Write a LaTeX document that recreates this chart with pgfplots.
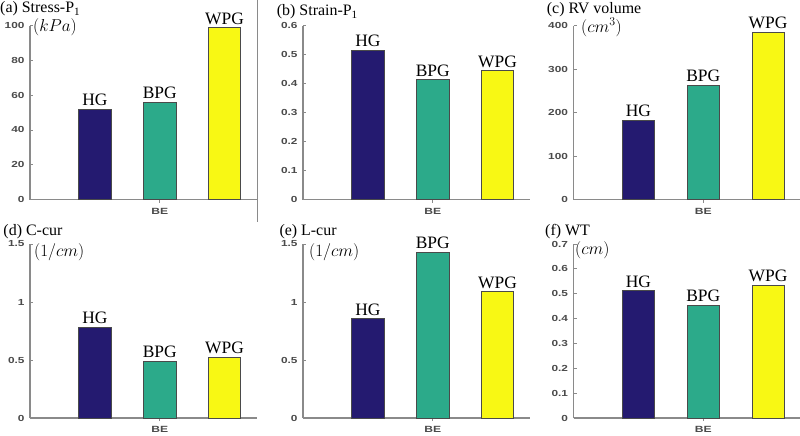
\documentclass[border=0pt]{standalone}
\usepackage{pgfplots}
\pgfplotsset{compat=1.18}
\usepackage{fontspec}
\setmainfont{Liberation Serif}
\setsansfont{Liberation Sans}
\newfontfamily\ticksf[FakeStretch=1.35]{Liberation Sans}
\definecolor{hg}{HTML}{241A70}
\definecolor{bpg}{HTML}{2CAA8A}
\definecolor{wpg}{HTML}{F8F814}
\definecolor{axgrey}{HTML}{8A8A8A}
\definecolor{tickgrey}{HTML}{4A4A4A}
\definecolor{edgegrey}{HTML}{4A4A4A}
\pgfplotsset{
  panel/.style={
    scale only axis, width=227bp, height=174bp,
    anchor=south west,
    axis x line=bottom, axis y line=left,
    axis line style={-, draw=axgrey, line width=1.2bp},
    xmin=0, xmax=3.5, ymin=0,
    xtick={2}, xticklabels={BE},
    tick align=inside, major tick length=3bp,
    tick style={draw=axgrey, line width=0.8bp},
    /pgf/number format/assume math mode=true,
    yticklabel style={font=\ticksf\bfseries\fontsize{8.8}{10}\selectfont, text=tickgrey},
    xticklabel style={font=\ticksf\bfseries\fontsize{9}{10}\selectfont, text=tickgrey},
    ybar, bar width=0.5,
    every node near coord/.append style={font=\rmfamily\fontsize{17.5}{20}\selectfont, text=black, inner sep=0pt, yshift=3bp},
    clip=false,
  },
  barstyle/.style={bar shift=0pt, draw=edgegrey, line width=0.6bp, fill=#1},
}
\begin{document}
\begin{tikzpicture}
\useasboundingbox (0,0) rectangle (800bp,-436bp);
\fontsize{16}{19}\selectfont
% (a)
\begin{axis}[panel, at={(30bp,-199.5bp)}, ymax=100, ytick={0,20,...,100}]
\addplot[barstyle=hg, nodes near coords={HG}] coordinates {(1,52)};
\addplot[barstyle=bpg, nodes near coords={BPG}] coordinates {(2,56)};
\addplot[barstyle=wpg, nodes near coords={WPG}] coordinates {(3,98.8)};
\end{axis}
% (b)
\begin{axis}[panel, at={(303bp,-199.5bp)}, ymax=0.6, ytick={0,0.1,...,0.6}]
\addplot[barstyle=hg, nodes near coords={HG}] coordinates {(1,0.515)};
\addplot[barstyle=bpg, nodes near coords={BPG}] coordinates {(2,0.413)};
\addplot[barstyle=wpg, nodes near coords={WPG}] coordinates {(3,0.444)};
\end{axis}
% (c)
\begin{axis}[panel, at={(573.5bp,-199.5bp)}, ymax=400, ytick={0,100,...,400}]
\addplot[barstyle=hg, nodes near coords={HG}] coordinates {(1,182)};
\addplot[barstyle=bpg, nodes near coords={BPG}] coordinates {(2,263)};
\addplot[barstyle=wpg, nodes near coords={WPG}] coordinates {(3,384)};
\end{axis}
% (d)
\begin{axis}[panel, at={(30bp,-418bp)}, ymax=1.5, ytick={0,0.5,1,1.5}]
\addplot[barstyle=hg, nodes near coords={HG}] coordinates {(1,0.786)};
\addplot[barstyle=bpg, nodes near coords={BPG}] coordinates {(2,0.492)};
\addplot[barstyle=wpg, nodes near coords={WPG}] coordinates {(3,0.524)};
\end{axis}
% (e)
\begin{axis}[panel, at={(303bp,-418bp)}, ymax=1.5, ytick={0,0.5,1,1.5}]
\addplot[barstyle=hg, nodes near coords={HG}] coordinates {(1,0.856)};
\addplot[barstyle=bpg, nodes near coords={BPG}] coordinates {(2,1.43)};
\addplot[barstyle=wpg, nodes near coords={WPG}] coordinates {(3,1.09)};
\end{axis}
% (f)
\begin{axis}[panel, at={(573.5bp,-418bp)}, ymax=0.7, ytick={0,0.1,...,0.7}]
\addplot[barstyle=hg, nodes near coords={HG}] coordinates {(1,0.513)};
\addplot[barstyle=bpg, nodes near coords={BPG}] coordinates {(2,0.455)};
\addplot[barstyle=wpg, nodes near coords={WPG}] coordinates {(3,0.533)};
\end{axis}
\draw[axgrey, line width=0.8bp] (257.5bp,0) -- (257.5bp,-222bp);
% titles
\node[anchor=base west, inner sep=0pt] at (0bp,-12.7bp) {(a) Stress-P\textsubscript{1}};
\node[anchor=base west, inner sep=0pt] at (276.7bp,-15.5bp) {(b) Strain-P\textsubscript{1}};
\node[anchor=base west, inner sep=0pt] at (546.7bp,-13.3bp) {(c) RV volume};
\node[anchor=base west, inner sep=0pt] at (3.3bp,-235.5bp) {(d) C-cur};
\node[anchor=base west, inner sep=0pt] at (279.3bp,-235bp) {(e) L-cur};
\node[anchor=base west, inner sep=0pt] at (545bp,-235.5bp) {(f) WT};
% units
\node[anchor=base west, inner sep=0pt, font=\fontsize{17}{20}\selectfont] at (33bp,-31bp) {$(kPa)$};
\node[anchor=base west, inner sep=0pt, font=\fontsize{17}{20}\selectfont] at (581bp,-32bp) {$(cm^3)$};
\node[anchor=base west, inner sep=0pt, font=\fontsize{17}{20}\selectfont] at (34bp,-256bp) {$(1/cm)$};
\node[anchor=base west, inner sep=0pt, font=\fontsize{17}{20}\selectfont] at (309bp,-256bp) {$(1/cm)$};
\node[anchor=base west, inner sep=0pt, font=\fontsize{17}{20}\selectfont] at (575bp,-254bp) {$(cm)$};
\end{tikzpicture}
\end{document}
